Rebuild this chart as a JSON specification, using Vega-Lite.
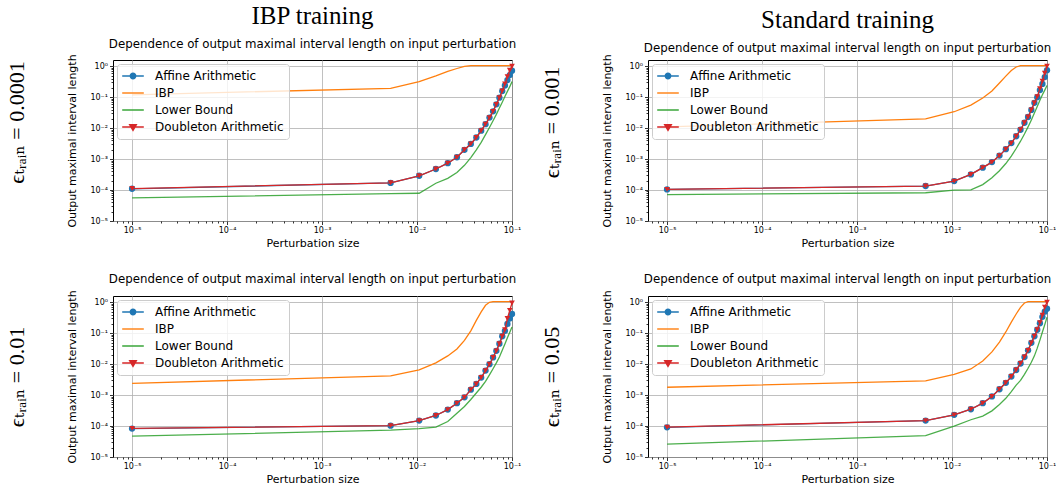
{
"$schema": "https://vega.github.io/schema/vega-lite/v6.json",
"background": "white",
"padding": {"left": 4, "top": 3, "right": 0, "bottom": 0},
"data": {"values": [
{"p":"A","x":0.00001,"a":1.1e-4,"i":0.12,"l":5.6e-5,"d":1.12e-4},
{"p":"A","x":0.0052726,"a":1.7e-4,"i":0.195,"l":7.7e-5,"d":1.72e-4},
{"p":"A","x":0.0105353,"a":2.9e-4,"i":0.32,"l":7.9e-5,"d":2.9e-4},
{"p":"A","x":0.0157979,"a":4.8e-4,"i":0.49,"l":1.66e-4,"d":4.8e-4},
{"p":"A","x":0.0210605,"a":7.4e-4,"i":0.69,"l":2.4e-4,"d":7.4e-4},
{"p":"A","x":0.0263232,"a":1.15e-3,"i":0.85,"l":3.7e-4,"d":1.15e-3},
{"p":"A","x":0.0315858,"a":2.0e-3,"i":1.0,"l":6.3e-4,"d":2.0e-3},
{"p":"A","x":0.0368484,"a":3.1e-3,"i":1.05,"l":1.12e-3,"d":3.1e-3},
{"p":"A","x":0.0421111,"a":5.0e-3,"i":1.05,"l":2.0e-3,"d":5.0e-3},
{"p":"A","x":0.0473737,"a":8.3e-3,"i":1.05,"l":3.5e-3,"d":8.3e-3},
{"p":"A","x":0.0526363,"a":1.35e-2,"i":1.05,"l":6.2e-3,"d":1.35e-2},
{"p":"A","x":0.0578989,"a":2.2e-2,"i":1.05,"l":1.05e-2,"d":2.2e-2},
{"p":"A","x":0.0631616,"a":3.5e-2,"i":1.05,"l":1.74e-2,"d":3.5e-2},
{"p":"A","x":0.0684242,"a":5.9e-2,"i":1.05,"l":2.8e-2,"d":5.9e-2},
{"p":"A","x":0.0736868,"a":9.7e-2,"i":1.05,"l":4.5e-2,"d":9.7e-2},
{"p":"A","x":0.0789495,"a":0.158,"i":1.05,"l":6.9e-2,"d":0.16},
{"p":"A","x":0.0842121,"a":0.24,"i":1.05,"l":0.105,"d":0.27},
{"p":"A","x":0.0894747,"a":0.36,"i":1.05,"l":0.155,"d":0.46},
{"p":"A","x":0.0947374,"a":0.52,"i":1.05,"l":0.22,"d":0.75},
{"p":"A","x":0.1,"a":0.72,"i":1.05,"l":0.32,"d":1.0},
{"p":"B","x":0.00001,"a":1.05e-4,"i":0.011,"l":7.1e-5,"d":1.05e-4},
{"p":"B","x":0.0052726,"a":1.35e-4,"i":0.020,"l":8.2e-5,"d":1.35e-4},
{"p":"B","x":0.0105353,"a":1.95e-4,"i":0.034,"l":1.0e-4,"d":1.95e-4},
{"p":"B","x":0.0157979,"a":3.2e-4,"i":0.056,"l":1.02e-4,"d":3.2e-4},
{"p":"B","x":0.0210605,"a":5.3e-4,"i":0.095,"l":1.5e-4,"d":5.3e-4},
{"p":"B","x":0.0263232,"a":8.0e-4,"i":0.16,"l":2.5e-4,"d":8.0e-4},
{"p":"B","x":0.0315858,"a":1.3e-3,"i":0.29,"l":4.2e-4,"d":1.3e-3},
{"p":"B","x":0.0368484,"a":2.1e-3,"i":0.48,"l":7.2e-4,"d":2.1e-3},
{"p":"B","x":0.0421111,"a":3.3e-3,"i":0.73,"l":1.25e-3,"d":3.3e-3},
{"p":"B","x":0.0473737,"a":5.5e-3,"i":0.95,"l":2.2e-3,"d":5.5e-3},
{"p":"B","x":0.0526363,"a":8.9e-3,"i":1.05,"l":3.8e-3,"d":8.9e-3},
{"p":"B","x":0.0578989,"a":1.5e-2,"i":1.05,"l":6.5e-3,"d":1.5e-2},
{"p":"B","x":0.0631616,"a":2.3e-2,"i":1.05,"l":1.1e-2,"d":2.3e-2},
{"p":"B","x":0.0684242,"a":3.9e-2,"i":1.05,"l":1.85e-2,"d":3.9e-2},
{"p":"B","x":0.0736868,"a":6.6e-2,"i":1.05,"l":3.1e-2,"d":6.6e-2},
{"p":"B","x":0.0789495,"a":0.10,"i":1.05,"l":5.0e-2,"d":0.105},
{"p":"B","x":0.0842121,"a":0.17,"i":1.05,"l":8.0e-2,"d":0.19},
{"p":"B","x":0.0894747,"a":0.27,"i":1.05,"l":0.12,"d":0.33},
{"p":"B","x":0.0947374,"a":0.45,"i":1.05,"l":0.17,"d":0.6},
{"p":"B","x":0.1,"a":0.75,"i":1.05,"l":0.24,"d":1.0},
{"p":"C","x":0.00001,"a":8.3e-5,"i":2.4e-3,"l":4.7e-5,"d":8.4e-5},
{"p":"C","x":0.0052726,"a":1.03e-4,"i":4.2e-3,"l":7.4e-5,"d":1.03e-4},
{"p":"C","x":0.0105353,"a":1.5e-4,"i":6.6e-3,"l":8.3e-5,"d":1.5e-4},
{"p":"C","x":0.0157979,"a":2.2e-4,"i":1.1e-2,"l":9.3e-5,"d":2.2e-4},
{"p":"C","x":0.0210605,"a":3.4e-4,"i":1.85e-2,"l":1.4e-4,"d":3.4e-4},
{"p":"C","x":0.0263232,"a":5.5e-4,"i":3.1e-2,"l":2.6e-4,"d":5.5e-4},
{"p":"C","x":0.0315858,"a":8.5e-4,"i":5.9e-2,"l":4.3e-4,"d":8.5e-4},
{"p":"C","x":0.0368484,"a":1.5e-3,"i":0.12,"l":7.2e-4,"d":1.5e-3},
{"p":"C","x":0.0421111,"a":2.3e-3,"i":0.26,"l":1.17e-3,"d":2.3e-3},
{"p":"C","x":0.0473737,"a":3.7e-3,"i":0.49,"l":1.8e-3,"d":3.7e-3},
{"p":"C","x":0.0526363,"a":6.2e-3,"i":0.8,"l":2.8e-3,"d":6.2e-3},
{"p":"C","x":0.0578989,"a":1.0e-2,"i":1.0,"l":4.5e-3,"d":1.0e-2},
{"p":"C","x":0.0631616,"a":1.65e-2,"i":1.05,"l":7.1e-3,"d":1.65e-2},
{"p":"C","x":0.0684242,"a":2.7e-2,"i":1.05,"l":1.1e-2,"d":2.7e-2},
{"p":"C","x":0.0736868,"a":4.6e-2,"i":1.05,"l":1.7e-2,"d":4.6e-2},
{"p":"C","x":0.0789495,"a":8.0e-2,"i":1.05,"l":2.8e-2,"d":8.0e-2},
{"p":"C","x":0.0842121,"a":0.12,"i":1.05,"l":4.5e-2,"d":0.13},
{"p":"C","x":0.0894747,"a":0.2,"i":1.05,"l":7.1e-2,"d":0.3},
{"p":"C","x":0.0947374,"a":0.3,"i":1.05,"l":0.107,"d":0.55},
{"p":"C","x":0.1,"a":0.42,"i":1.05,"l":0.16,"d":0.95},
{"p":"D","x":0.00001,"a":9.1e-5,"i":1.8e-3,"l":2.6e-5,"d":9.2e-5},
{"p":"D","x":0.0052726,"a":1.5e-4,"i":2.9e-3,"l":4.9e-5,"d":1.5e-4},
{"p":"D","x":0.0105353,"a":2.3e-4,"i":4.7e-3,"l":1.0e-4,"d":2.3e-4},
{"p":"D","x":0.0157979,"a":3.5e-4,"i":7.0e-3,"l":1.6e-4,"d":3.5e-4},
{"p":"D","x":0.0210605,"a":5.5e-4,"i":1.26e-2,"l":2.1e-4,"d":5.5e-4},
{"p":"D","x":0.0263232,"a":9.1e-4,"i":2.5e-2,"l":3.1e-4,"d":9.1e-4},
{"p":"D","x":0.0315858,"a":1.55e-3,"i":5.2e-2,"l":5.0e-4,"d":1.55e-3},
{"p":"D","x":0.0368484,"a":2.5e-3,"i":0.11,"l":7.9e-4,"d":2.5e-3},
{"p":"D","x":0.0421111,"a":4.0e-3,"i":0.23,"l":1.3e-3,"d":4.0e-3},
{"p":"D","x":0.0473737,"a":6.5e-3,"i":0.42,"l":2.1e-3,"d":6.5e-3},
{"p":"D","x":0.0526363,"a":1.05e-2,"i":0.69,"l":3.0e-3,"d":1.05e-2},
{"p":"D","x":0.0578989,"a":1.7e-2,"i":0.95,"l":4.7e-3,"d":1.7e-2},
{"p":"D","x":0.0631616,"a":2.8e-2,"i":1.05,"l":7.4e-3,"d":2.8e-2},
{"p":"D","x":0.0684242,"a":4.9e-2,"i":1.05,"l":1.15e-2,"d":4.9e-2},
{"p":"D","x":0.0736868,"a":8.0e-2,"i":1.05,"l":1.86e-2,"d":8.0e-2},
{"p":"D","x":0.0789495,"a":0.13,"i":1.05,"l":3.3e-2,"d":0.13},
{"p":"D","x":0.0842121,"a":0.21,"i":1.05,"l":6.0e-2,"d":0.22},
{"p":"D","x":0.0894747,"a":0.34,"i":1.05,"l":0.11,"d":0.38},
{"p":"D","x":0.0947374,"a":0.5,"i":1.05,"l":0.19,"d":0.7},
{"p":"D","x":0.1,"a":0.62,"i":1.05,"l":0.33,"d":1.0}
]},
"spacing": 17,
"resolve": {"scale": {"color": "independent"}, "legend": {"color": "independent"}},
"hconcat": [
{"spacing": 24,
 "resolve": {"scale": {"color": "independent"}, "legend": {"color": "independent"}},
 "vconcat": [
{"width": 399, "height": 161,
 "title": {"text": "IBP training", "subtitle": "Dependence of output maximal interval length on input perturbation", "font": "Liberation Serif", "fontSize": 25, "fontWeight": "normal", "color": "black", "subtitleFont": "DejaVu Sans", "subtitleFontSize": 11.8, "subtitleColor": "black", "subtitlePadding": 10, "offset": -1, "anchor": "middle"},
 "transform": [{"filter": "datum.p == 'A'"}, {"fold": ["a","i","l","d"], "as": ["key","val"]}],
 "encoding": {"x": {"field": "x", "type": "quantitative", "scale": {"type": "log", "domain": [6.3e-6, 0.1], "nice": false}, "axis": {"title": "Perturbation size", "titlePadding": 3, "values": [7e-6,8e-6,9e-6,1e-5,2e-5,3e-5,4e-5,5e-5,6e-5,7e-5,8e-5,9e-5,1e-4,2e-4,3e-4,4e-4,5e-4,6e-4,7e-4,8e-4,9e-4,1e-3,2e-3,3e-3,4e-3,5e-3,6e-3,7e-3,8e-3,9e-3,0.01,0.02,0.03,0.04,0.05,0.06,0.07,0.08,0.09,0.1], "labelExpr": "abs(log(datum.value)/LN10-round(log(datum.value)/LN10))>0.01?'':round(log(datum.value)/LN10)==0?'10⁰':round(log(datum.value)/LN10)==-1?'10⁻¹':round(log(datum.value)/LN10)==-2?'10⁻²':round(log(datum.value)/LN10)==-3?'10⁻³':round(log(datum.value)/LN10)==-4?'10⁻⁴':'10⁻⁵'", "tickSize": {"condition": {"test": "abs(log(datum.value)/LN10-round(log(datum.value)/LN10))>0.01", "value": 2}, "value": 3.5}, "gridOpacity": {"condition": {"test": "abs(log(datum.value)/LN10-round(log(datum.value)/LN10))>0.01", "value": 0}, "value": 1}}}},
 "layer": [
  {"transform": [{"filter": "datum.key != 'd'"}], "mark": {"type": "line", "strokeWidth": 1.3}, "encoding": {"y": {"field": "val", "type": "quantitative", "scale": {"type": "log", "domain": [1e-5, 1.6], "nice": false}, "axis": {"title": "Output maximal interval length", "titlePadding": 12, "values": [1e-5,2e-5,3e-5,4e-5,5e-5,6e-5,7e-5,8e-5,9e-5,1e-4,2e-4,3e-4,4e-4,5e-4,6e-4,7e-4,8e-4,9e-4,1e-3,2e-3,3e-3,4e-3,5e-3,6e-3,7e-3,8e-3,9e-3,0.01,0.02,0.03,0.04,0.05,0.06,0.07,0.08,0.09,0.1,0.2,0.3,0.4,0.5,0.6,0.7,0.8,0.9,1], "labelExpr": "abs(log(datum.value)/LN10-round(log(datum.value)/LN10))>0.01?'':round(log(datum.value)/LN10)==0?'10⁰':round(log(datum.value)/LN10)==-1?'10⁻¹':round(log(datum.value)/LN10)==-2?'10⁻²':round(log(datum.value)/LN10)==-3?'10⁻³':round(log(datum.value)/LN10)==-4?'10⁻⁴':'10⁻⁵'", "tickSize": {"condition": {"test": "abs(log(datum.value)/LN10-round(log(datum.value)/LN10))>0.01", "value": 2}, "value": 3.5}, "gridOpacity": {"condition": {"test": "abs(log(datum.value)/LN10-round(log(datum.value)/LN10))>0.01", "value": 0}, "value": 1}}},
    "color": {"field": "key", "type": "nominal", "scale": {"domain": ["a","i","l","d"], "range": ["#1f77b4","#ff7f0e","#2ca02c","#d62728"]}, "legend": {"title": null, "orient": "top-left", "offset": 4, "labelExpr": "datum.label == 'a' ? 'Affine Arithmetic' : datum.label == 'i' ? 'IBP' : datum.label == 'l' ? 'Lower Bound' : 'Doubleton Arithmetic'", "symbolSize": 144, "symbolStrokeWidth": 1.4, "symbolOffset": 4, "labelOffset": 15,
      "encoding": {"symbols": {
        "shape": {"condition": [{"test": "datum.value == 'a'", "value": "M-1.8,0L1.8,0M-0.45,0A0.45,0.45,0,1,1,0.45,0A0.45,0.45,0,1,1,-0.45,0Z"}, {"test": "datum.value == 'd'", "value": "M-1.8,0L1.8,0M-0.55,-0.4L0.55,-0.4L0,0.55Z"}], "value": "M-1.8,0L1.8,0"},
        "fill": {"condition": [{"test": "datum.value == 'a'", "value": "#1f77b4"}, {"test": "datum.value == 'd'", "value": "#d62728"}], "value": "transparent"}}}}},
    "opacity": {"condition": {"test": "datum.key == 'l'", "value": 0.85}, "value": 1}}},
  {"transform": [{"filter": "datum.key == 'a'"}], "mark": {"type": "point", "filled": true, "shape": "circle", "size": 40, "color": "#1f77b4", "opacity": 1}, "encoding": {"y": {"field": "val", "type": "quantitative", "axis": null}}},
  {"transform": [{"filter": "datum.key == 'd'"}], "mark": {"type": "line", "strokeWidth": 1.3, "color": "#d62728", "opacity": 1}, "encoding": {"y": {"field": "val", "type": "quantitative", "axis": null}}},
  {"transform": [{"filter": "datum.key == 'd'"}], "mark": {"type": "point", "filled": true, "shape": "triangle-down", "size": 32, "color": "#d62728", "opacity": 1}, "encoding": {"y": {"field": "val", "type": "quantitative", "axis": null}}},
  {"transform": [{"filter": "datum.key == 'none'"}], "mark": {"type": "point"}, "encoding": {
    "y": {"field": "val", "type": "quantitative", "axis": {"orient": "left", "title": "ϵₜᵣₐᵢₙ   =   0.0001", "titleY": 62, "labels": false, "ticks": false, "domain": false, "grid": false, "offset": 85, "titlePadding": 0, "titleFont": "Liberation Serif, DejaVu Serif", "titleFontSize": 22, "titleFontWeight": "normal"}}}}
 ],
 "resolve": {"axis": {"y": "independent"}}
},
{"width": 399, "height": 161,
 "title": {"text": "Dependence of output maximal interval length on input perturbation", "font": "DejaVu Sans", "fontSize": 11.8, "fontWeight": "normal", "color": "black", "offset": 4, "anchor": "middle"},
 "transform": [{"filter": "datum.p == 'C'"}, {"fold": ["a","i","l","d"], "as": ["key","val"]}],
 "encoding": {"x": {"field": "x", "type": "quantitative", "scale": {"type": "log", "domain": [6.3e-6, 0.1], "nice": false}, "axis": {"title": "Perturbation size", "titlePadding": 3, "values": [7e-6,8e-6,9e-6,1e-5,2e-5,3e-5,4e-5,5e-5,6e-5,7e-5,8e-5,9e-5,1e-4,2e-4,3e-4,4e-4,5e-4,6e-4,7e-4,8e-4,9e-4,1e-3,2e-3,3e-3,4e-3,5e-3,6e-3,7e-3,8e-3,9e-3,0.01,0.02,0.03,0.04,0.05,0.06,0.07,0.08,0.09,0.1], "labelExpr": "abs(log(datum.value)/LN10-round(log(datum.value)/LN10))>0.01?'':round(log(datum.value)/LN10)==0?'10⁰':round(log(datum.value)/LN10)==-1?'10⁻¹':round(log(datum.value)/LN10)==-2?'10⁻²':round(log(datum.value)/LN10)==-3?'10⁻³':round(log(datum.value)/LN10)==-4?'10⁻⁴':'10⁻⁵'", "tickSize": {"condition": {"test": "abs(log(datum.value)/LN10-round(log(datum.value)/LN10))>0.01", "value": 2}, "value": 3.5}, "gridOpacity": {"condition": {"test": "abs(log(datum.value)/LN10-round(log(datum.value)/LN10))>0.01", "value": 0}, "value": 1}}}},
 "layer": [
  {"transform": [{"filter": "datum.key != 'd'"}], "mark": {"type": "line", "strokeWidth": 1.3}, "encoding": {"y": {"field": "val", "type": "quantitative", "scale": {"type": "log", "domain": [1e-5, 1.6], "nice": false}, "axis": {"title": "Output maximal interval length", "titlePadding": 12, "values": [1e-5,2e-5,3e-5,4e-5,5e-5,6e-5,7e-5,8e-5,9e-5,1e-4,2e-4,3e-4,4e-4,5e-4,6e-4,7e-4,8e-4,9e-4,1e-3,2e-3,3e-3,4e-3,5e-3,6e-3,7e-3,8e-3,9e-3,0.01,0.02,0.03,0.04,0.05,0.06,0.07,0.08,0.09,0.1,0.2,0.3,0.4,0.5,0.6,0.7,0.8,0.9,1], "labelExpr": "abs(log(datum.value)/LN10-round(log(datum.value)/LN10))>0.01?'':round(log(datum.value)/LN10)==0?'10⁰':round(log(datum.value)/LN10)==-1?'10⁻¹':round(log(datum.value)/LN10)==-2?'10⁻²':round(log(datum.value)/LN10)==-3?'10⁻³':round(log(datum.value)/LN10)==-4?'10⁻⁴':'10⁻⁵'", "tickSize": {"condition": {"test": "abs(log(datum.value)/LN10-round(log(datum.value)/LN10))>0.01", "value": 2}, "value": 3.5}, "gridOpacity": {"condition": {"test": "abs(log(datum.value)/LN10-round(log(datum.value)/LN10))>0.01", "value": 0}, "value": 1}}},
    "color": {"field": "key", "type": "nominal", "scale": {"domain": ["a","i","l","d"], "range": ["#1f77b4","#ff7f0e","#2ca02c","#d62728"]}, "legend": {"title": null, "orient": "top-left", "offset": 4, "labelExpr": "datum.label == 'a' ? 'Affine Arithmetic' : datum.label == 'i' ? 'IBP' : datum.label == 'l' ? 'Lower Bound' : 'Doubleton Arithmetic'", "symbolSize": 144, "symbolStrokeWidth": 1.4, "symbolOffset": 4, "labelOffset": 15,
      "encoding": {"symbols": {
        "shape": {"condition": [{"test": "datum.value == 'a'", "value": "M-1.8,0L1.8,0M-0.45,0A0.45,0.45,0,1,1,0.45,0A0.45,0.45,0,1,1,-0.45,0Z"}, {"test": "datum.value == 'd'", "value": "M-1.8,0L1.8,0M-0.55,-0.4L0.55,-0.4L0,0.55Z"}], "value": "M-1.8,0L1.8,0"},
        "fill": {"condition": [{"test": "datum.value == 'a'", "value": "#1f77b4"}, {"test": "datum.value == 'd'", "value": "#d62728"}], "value": "transparent"}}}}},
    "opacity": {"condition": {"test": "datum.key == 'l'", "value": 0.85}, "value": 1}}},
  {"transform": [{"filter": "datum.key == 'a'"}], "mark": {"type": "point", "filled": true, "shape": "circle", "size": 40, "color": "#1f77b4", "opacity": 1}, "encoding": {"y": {"field": "val", "type": "quantitative", "axis": null}}},
  {"transform": [{"filter": "datum.key == 'd'"}], "mark": {"type": "line", "strokeWidth": 1.3, "color": "#d62728", "opacity": 1}, "encoding": {"y": {"field": "val", "type": "quantitative", "axis": null}}},
  {"transform": [{"filter": "datum.key == 'd'"}], "mark": {"type": "point", "filled": true, "shape": "triangle-down", "size": 32, "color": "#d62728", "opacity": 1}, "encoding": {"y": {"field": "val", "type": "quantitative", "axis": null}}},
  {"transform": [{"filter": "datum.key == 'none'"}], "mark": {"type": "point"}, "encoding": {
    "y": {"field": "val", "type": "quantitative", "axis": {"orient": "left", "title": "ϵₜᵣₐᵢₙ   =   0.01", "labels": false, "ticks": false, "domain": false, "grid": false, "offset": 85, "titlePadding": 0, "titleFont": "Liberation Serif, DejaVu Serif", "titleFontSize": 22, "titleFontWeight": "normal"}}}}
 ],
 "resolve": {"axis": {"y": "independent"}}
}
]},
{"spacing": 24,
 "resolve": {"scale": {"color": "independent"}, "legend": {"color": "independent"}},
 "vconcat": [
{"width": 399, "height": 161,
 "title": {"text": "Standard training", "subtitle": "Dependence of output maximal interval length on input perturbation", "font": "Liberation Serif", "fontSize": 25, "fontWeight": "normal", "color": "black", "subtitleFont": "DejaVu Sans", "subtitleFontSize": 11.8, "subtitleColor": "black", "subtitlePadding": 10, "offset": -1, "anchor": "middle"},
 "transform": [{"filter": "datum.p == 'B'"}, {"fold": ["a","i","l","d"], "as": ["key","val"]}],
 "encoding": {"x": {"field": "x", "type": "quantitative", "scale": {"type": "log", "domain": [6.3e-6, 0.1], "nice": false}, "axis": {"title": "Perturbation size", "titlePadding": 3, "values": [7e-6,8e-6,9e-6,1e-5,2e-5,3e-5,4e-5,5e-5,6e-5,7e-5,8e-5,9e-5,1e-4,2e-4,3e-4,4e-4,5e-4,6e-4,7e-4,8e-4,9e-4,1e-3,2e-3,3e-3,4e-3,5e-3,6e-3,7e-3,8e-3,9e-3,0.01,0.02,0.03,0.04,0.05,0.06,0.07,0.08,0.09,0.1], "labelExpr": "abs(log(datum.value)/LN10-round(log(datum.value)/LN10))>0.01?'':round(log(datum.value)/LN10)==0?'10⁰':round(log(datum.value)/LN10)==-1?'10⁻¹':round(log(datum.value)/LN10)==-2?'10⁻²':round(log(datum.value)/LN10)==-3?'10⁻³':round(log(datum.value)/LN10)==-4?'10⁻⁴':'10⁻⁵'", "tickSize": {"condition": {"test": "abs(log(datum.value)/LN10-round(log(datum.value)/LN10))>0.01", "value": 2}, "value": 3.5}, "gridOpacity": {"condition": {"test": "abs(log(datum.value)/LN10-round(log(datum.value)/LN10))>0.01", "value": 0}, "value": 1}}}},
 "layer": [
  {"transform": [{"filter": "datum.key != 'd'"}], "mark": {"type": "line", "strokeWidth": 1.3}, "encoding": {"y": {"field": "val", "type": "quantitative", "scale": {"type": "log", "domain": [1e-5, 1.6], "nice": false}, "axis": {"title": "Output maximal interval length", "titlePadding": 12, "values": [1e-5,2e-5,3e-5,4e-5,5e-5,6e-5,7e-5,8e-5,9e-5,1e-4,2e-4,3e-4,4e-4,5e-4,6e-4,7e-4,8e-4,9e-4,1e-3,2e-3,3e-3,4e-3,5e-3,6e-3,7e-3,8e-3,9e-3,0.01,0.02,0.03,0.04,0.05,0.06,0.07,0.08,0.09,0.1,0.2,0.3,0.4,0.5,0.6,0.7,0.8,0.9,1], "labelExpr": "abs(log(datum.value)/LN10-round(log(datum.value)/LN10))>0.01?'':round(log(datum.value)/LN10)==0?'10⁰':round(log(datum.value)/LN10)==-1?'10⁻¹':round(log(datum.value)/LN10)==-2?'10⁻²':round(log(datum.value)/LN10)==-3?'10⁻³':round(log(datum.value)/LN10)==-4?'10⁻⁴':'10⁻⁵'", "tickSize": {"condition": {"test": "abs(log(datum.value)/LN10-round(log(datum.value)/LN10))>0.01", "value": 2}, "value": 3.5}, "gridOpacity": {"condition": {"test": "abs(log(datum.value)/LN10-round(log(datum.value)/LN10))>0.01", "value": 0}, "value": 1}}},
    "color": {"field": "key", "type": "nominal", "scale": {"domain": ["a","i","l","d"], "range": ["#1f77b4","#ff7f0e","#2ca02c","#d62728"]}, "legend": {"title": null, "orient": "top-left", "offset": 4, "labelExpr": "datum.label == 'a' ? 'Affine Arithmetic' : datum.label == 'i' ? 'IBP' : datum.label == 'l' ? 'Lower Bound' : 'Doubleton Arithmetic'", "symbolSize": 144, "symbolStrokeWidth": 1.4, "symbolOffset": 4, "labelOffset": 15,
      "encoding": {"symbols": {
        "shape": {"condition": [{"test": "datum.value == 'a'", "value": "M-1.8,0L1.8,0M-0.45,0A0.45,0.45,0,1,1,0.45,0A0.45,0.45,0,1,1,-0.45,0Z"}, {"test": "datum.value == 'd'", "value": "M-1.8,0L1.8,0M-0.55,-0.4L0.55,-0.4L0,0.55Z"}], "value": "M-1.8,0L1.8,0"},
        "fill": {"condition": [{"test": "datum.value == 'a'", "value": "#1f77b4"}, {"test": "datum.value == 'd'", "value": "#d62728"}], "value": "transparent"}}}}},
    "opacity": {"condition": {"test": "datum.key == 'l'", "value": 0.85}, "value": 1}}},
  {"transform": [{"filter": "datum.key == 'a'"}], "mark": {"type": "point", "filled": true, "shape": "circle", "size": 40, "color": "#1f77b4", "opacity": 1}, "encoding": {"y": {"field": "val", "type": "quantitative", "axis": null}}},
  {"transform": [{"filter": "datum.key == 'd'"}], "mark": {"type": "line", "strokeWidth": 1.3, "color": "#d62728", "opacity": 1}, "encoding": {"y": {"field": "val", "type": "quantitative", "axis": null}}},
  {"transform": [{"filter": "datum.key == 'd'"}], "mark": {"type": "point", "filled": true, "shape": "triangle-down", "size": 32, "color": "#d62728", "opacity": 1}, "encoding": {"y": {"field": "val", "type": "quantitative", "axis": null}}},
  {"transform": [{"filter": "datum.key == 'none'"}], "mark": {"type": "point"}, "encoding": {
    "y": {"field": "val", "type": "quantitative", "axis": {"orient": "left", "title": "ϵₜᵣₐᵢₙ   =   0.001", "titleY": 62, "labels": false, "ticks": false, "domain": false, "grid": false, "offset": 85, "titlePadding": 0, "titleFont": "Liberation Serif, DejaVu Serif", "titleFontSize": 22, "titleFontWeight": "normal"}}}}
 ],
 "resolve": {"axis": {"y": "independent"}}
},
{"width": 399, "height": 161,
 "title": {"text": "Dependence of output maximal interval length on input perturbation", "font": "DejaVu Sans", "fontSize": 11.8, "fontWeight": "normal", "color": "black", "offset": 4, "anchor": "middle"},
 "transform": [{"filter": "datum.p == 'D'"}, {"fold": ["a","i","l","d"], "as": ["key","val"]}],
 "encoding": {"x": {"field": "x", "type": "quantitative", "scale": {"type": "log", "domain": [6.3e-6, 0.1], "nice": false}, "axis": {"title": "Perturbation size", "titlePadding": 3, "values": [7e-6,8e-6,9e-6,1e-5,2e-5,3e-5,4e-5,5e-5,6e-5,7e-5,8e-5,9e-5,1e-4,2e-4,3e-4,4e-4,5e-4,6e-4,7e-4,8e-4,9e-4,1e-3,2e-3,3e-3,4e-3,5e-3,6e-3,7e-3,8e-3,9e-3,0.01,0.02,0.03,0.04,0.05,0.06,0.07,0.08,0.09,0.1], "labelExpr": "abs(log(datum.value)/LN10-round(log(datum.value)/LN10))>0.01?'':round(log(datum.value)/LN10)==0?'10⁰':round(log(datum.value)/LN10)==-1?'10⁻¹':round(log(datum.value)/LN10)==-2?'10⁻²':round(log(datum.value)/LN10)==-3?'10⁻³':round(log(datum.value)/LN10)==-4?'10⁻⁴':'10⁻⁵'", "tickSize": {"condition": {"test": "abs(log(datum.value)/LN10-round(log(datum.value)/LN10))>0.01", "value": 2}, "value": 3.5}, "gridOpacity": {"condition": {"test": "abs(log(datum.value)/LN10-round(log(datum.value)/LN10))>0.01", "value": 0}, "value": 1}}}},
 "layer": [
  {"transform": [{"filter": "datum.key != 'd'"}], "mark": {"type": "line", "strokeWidth": 1.3}, "encoding": {"y": {"field": "val", "type": "quantitative", "scale": {"type": "log", "domain": [1e-5, 1.6], "nice": false}, "axis": {"title": "Output maximal interval length", "titlePadding": 12, "values": [1e-5,2e-5,3e-5,4e-5,5e-5,6e-5,7e-5,8e-5,9e-5,1e-4,2e-4,3e-4,4e-4,5e-4,6e-4,7e-4,8e-4,9e-4,1e-3,2e-3,3e-3,4e-3,5e-3,6e-3,7e-3,8e-3,9e-3,0.01,0.02,0.03,0.04,0.05,0.06,0.07,0.08,0.09,0.1,0.2,0.3,0.4,0.5,0.6,0.7,0.8,0.9,1], "labelExpr": "abs(log(datum.value)/LN10-round(log(datum.value)/LN10))>0.01?'':round(log(datum.value)/LN10)==0?'10⁰':round(log(datum.value)/LN10)==-1?'10⁻¹':round(log(datum.value)/LN10)==-2?'10⁻²':round(log(datum.value)/LN10)==-3?'10⁻³':round(log(datum.value)/LN10)==-4?'10⁻⁴':'10⁻⁵'", "tickSize": {"condition": {"test": "abs(log(datum.value)/LN10-round(log(datum.value)/LN10))>0.01", "value": 2}, "value": 3.5}, "gridOpacity": {"condition": {"test": "abs(log(datum.value)/LN10-round(log(datum.value)/LN10))>0.01", "value": 0}, "value": 1}}},
    "color": {"field": "key", "type": "nominal", "scale": {"domain": ["a","i","l","d"], "range": ["#1f77b4","#ff7f0e","#2ca02c","#d62728"]}, "legend": {"title": null, "orient": "top-left", "offset": 4, "labelExpr": "datum.label == 'a' ? 'Affine Arithmetic' : datum.label == 'i' ? 'IBP' : datum.label == 'l' ? 'Lower Bound' : 'Doubleton Arithmetic'", "symbolSize": 144, "symbolStrokeWidth": 1.4, "symbolOffset": 4, "labelOffset": 15,
      "encoding": {"symbols": {
        "shape": {"condition": [{"test": "datum.value == 'a'", "value": "M-1.8,0L1.8,0M-0.45,0A0.45,0.45,0,1,1,0.45,0A0.45,0.45,0,1,1,-0.45,0Z"}, {"test": "datum.value == 'd'", "value": "M-1.8,0L1.8,0M-0.55,-0.4L0.55,-0.4L0,0.55Z"}], "value": "M-1.8,0L1.8,0"},
        "fill": {"condition": [{"test": "datum.value == 'a'", "value": "#1f77b4"}, {"test": "datum.value == 'd'", "value": "#d62728"}], "value": "transparent"}}}}},
    "opacity": {"condition": {"test": "datum.key == 'l'", "value": 0.85}, "value": 1}}},
  {"transform": [{"filter": "datum.key == 'a'"}], "mark": {"type": "point", "filled": true, "shape": "circle", "size": 40, "color": "#1f77b4", "opacity": 1}, "encoding": {"y": {"field": "val", "type": "quantitative", "axis": null}}},
  {"transform": [{"filter": "datum.key == 'd'"}], "mark": {"type": "line", "strokeWidth": 1.3, "color": "#d62728", "opacity": 1}, "encoding": {"y": {"field": "val", "type": "quantitative", "axis": null}}},
  {"transform": [{"filter": "datum.key == 'd'"}], "mark": {"type": "point", "filled": true, "shape": "triangle-down", "size": 32, "color": "#d62728", "opacity": 1}, "encoding": {"y": {"field": "val", "type": "quantitative", "axis": null}}},
  {"transform": [{"filter": "datum.key == 'none'"}], "mark": {"type": "point"}, "encoding": {
    "y": {"field": "val", "type": "quantitative", "axis": {"orient": "left", "title": "ϵₜᵣₐᵢₙ   =   0.05", "labels": false, "ticks": false, "domain": false, "grid": false, "offset": 85, "titlePadding": 0, "titleFont": "Liberation Serif, DejaVu Serif", "titleFontSize": 22, "titleFontWeight": "normal"}}}}
 ],
 "resolve": {"axis": {"y": "independent"}}
}
]}
],
"config": {
 "view": {"stroke": "black", "strokeWidth": 1},
 "axis": {"labelFont": "DejaVu Sans", "labelFontSize": 8, "labelColor": "black", "titleFont": "DejaVu Sans", "titleFontSize": 11, "titleFontWeight": "normal", "titleColor": "black", "tickColor": "black", "tickWidth": 0.8, "domain": false, "gridColor": "#b0b0b0", "gridWidth": 0.8, "labelFlush": false, "labelOverlap": false, "labelPadding": 2},
 "legend": {"labelFont": "DejaVu Sans", "labelFontSize": 12, "labelColor": "black", "padding": 5, "rowPadding": 4, "strokeColor": "#cccccc", "fillColor": "rgba(255,255,255,0.8)", "cornerRadius": 3}
}
}
